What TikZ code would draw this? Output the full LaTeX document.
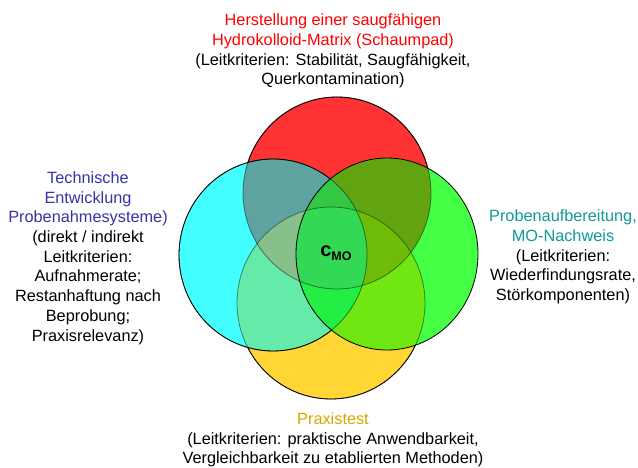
\documentclass[tikz,border=0pt]{standalone}
\usepackage{fontspec}
\setmainfont{Liberation Sans}
\definecolor{colR}{HTML}{FF3333}
\definecolor{colC}{HTML}{44FFFF}
\definecolor{colG}{HTML}{44FF44}
\definecolor{colY}{HTML}{FFD633}
\definecolor{colRC}{HTML}{5FA3A0}
\definecolor{colRG}{HTML}{62A312}
\definecolor{colCY}{HTML}{66EAAA}
\definecolor{colGY}{HTML}{70E612}
\definecolor{colRCY}{HTML}{88C08C}
\definecolor{colRGY}{HTML}{6EBB08}
\definecolor{colCGR}{HTML}{33C744}
\definecolor{colCGY}{HTML}{22EE44}
\definecolor{colAll}{HTML}{33D855}
\definecolor{txtRed}{HTML}{FF0000}
\definecolor{txtBlue}{HTML}{3535A5}
\definecolor{txtTeal}{HTML}{119999}
\definecolor{txtYel}{HTML}{D9A800}
\begin{document}
\begin{tikzpicture}[x=1pt,y=-1pt,
  rad/.style={x radius=94,y radius=96},
  radG/.style={x radius=91,y radius=96},
  outl/.style={draw=black,line width=0.8pt},
  faint/.style={draw=black,draw opacity=0.45,line width=0.8pt},
  lbl/.style={align=center,inner sep=0pt,font=\fontsize{16.3}{19.7}\selectfont}]
\useasboundingbox (0,0) rectangle (638,468);
\fill[white] (0,0) rectangle (638,468);
\coordinate (cR) at (337,193);
\coordinate (cC) at (273,255);
\coordinate (cG) at (387,254);
\coordinate (cY) at (331,303);
% single fills
\fill[colR] (cR) ellipse[rad];
\fill[colY] (cY) ellipse[rad];
\fill[colC] (cC) ellipse[rad];
\fill[colG] (cG) ellipse[radG];
% pairwise
\begin{scope}\clip (cR) ellipse[rad]; \fill[colRC] (cC) ellipse[rad]; \end{scope}
\begin{scope}\clip (cR) ellipse[rad]; \fill[colRG] (cG) ellipse[radG]; \end{scope}
\begin{scope}\clip (cY) ellipse[rad]; \fill[colCY] (cC) ellipse[rad]; \end{scope}
\begin{scope}\clip (cY) ellipse[rad]; \fill[colGY] (cG) ellipse[radG]; \end{scope}
% triples
\begin{scope}\clip (cR) ellipse[rad]; \clip (cY) ellipse[rad]; \fill[colRCY] (cC) ellipse[rad]; \end{scope}
\begin{scope}\clip (cR) ellipse[rad]; \clip (cY) ellipse[rad]; \fill[colRGY] (cG) ellipse[radG]; \end{scope}
\begin{scope}\clip (cC) ellipse[rad]; \fill[colCGR] (cG) ellipse[radG]; \end{scope}
\begin{scope}\clip (cC) ellipse[rad]; \clip (cY) ellipse[rad]; \fill[colCGY] (cG) ellipse[radG]; \end{scope}
\begin{scope}\clip (cC) ellipse[rad]; \clip (cY) ellipse[rad]; \clip (cR) ellipse[rad]; \fill[colAll] (cG) ellipse[radG]; \end{scope}
% outlines: order R, Y, C, G
\path[faint] (cR) ellipse[rad];
\path[faint] (cY) ellipse[rad];
\path[faint] (cC) ellipse[rad];
\begin{scope}[even odd rule]
  \clip (-20,-20) rectangle (660,490) (cY) ellipse[rad];
  \clip (-20,-20) rectangle (660,490) (cC) ellipse[rad];
  \clip (-20,-20) rectangle (660,490) (cG) ellipse[radG];
  \path[outl] (cR) ellipse[rad];
\end{scope}
\begin{scope}[even odd rule]
  \clip (-20,-20) rectangle (660,490) (cC) ellipse[rad];
  \clip (-20,-20) rectangle (660,490) (cG) ellipse[radG];
  \path[outl] (cY) ellipse[rad];
\end{scope}
\begin{scope}[even odd rule]
  \clip (-20,-20) rectangle (660,490) (cG) ellipse[radG];
  \path[outl] (cC) ellipse[rad];
\end{scope}
\path[outl] (cG) ellipse[radG];
% labels
\node[lbl] (top) at (333,51) {\textcolor{txtRed}{Herstellung einer saugfähigen}\\
  \textcolor{txtRed}{Hydrokolloid-Matrix (Schaumpad)}\\
  (Leitkriterien: Stabilität, Saugfähigkeit,\\ Querkontamination)};
\node[lbl] (left) at (88,258) {\textcolor{txtBlue}{Technische}\\ \textcolor{txtBlue}{Entwicklung}\\
  \textcolor{txtBlue}{Probenahmesysteme)}\\ (direkt / indirekt\\ Leitkriterien:\\ Aufnahmerate;\\
  Restanhaftung nach\\ Beprobung;\\ Praxisrelevanz)};
\node[lbl] (right) at (563,257) {\textcolor{txtTeal}{Probenaufbereitung,}\\ \textcolor{txtTeal}{MO-Nachweis}\\
  (Leitkriterien:\\ Wiederfindungsrate,\\ Störkomponenten)};
\node[lbl] (bottom) at (333,440) {\textcolor{txtYel}{Praxistest}\\
  (Leitkriterien: praktische Anwendbarkeit,\\ Vergleichbarkeit zu etablierten Methoden)};
\node[inner sep=0pt,font=\bfseries] (cmo) at (336,253) {\fontsize{20}{21}\selectfont c\raisebox{-4.5pt}{\fontsize{12.5}{13}\selectfont MO}};
\end{tikzpicture}
\end{document}
